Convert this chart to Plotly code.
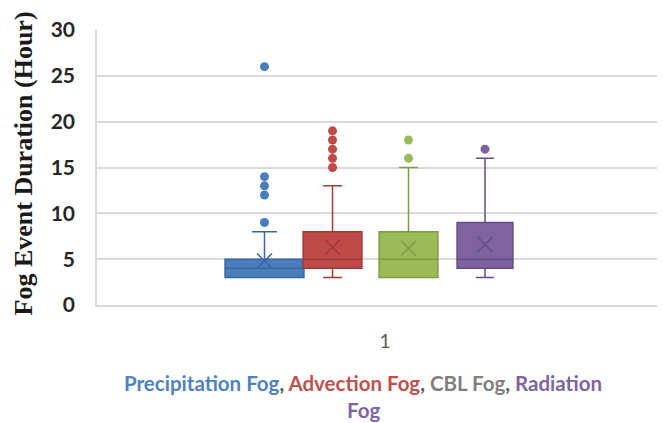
import plotly.graph_objects as go

# ---- data ----
categories = ["Precipitation Fog", "Advection Fog", "CBL Fog", "Radiation Fog"]
q1 = [3, 4, 3, 4]
median = [4, 5, 5, 5]
q3 = [5, 8, 8, 9]
lower = [3, 3, 3, 3]
upper = [8, 13, 15, 16]
means = [4.8, 6.3, 6.2, 6.6]
outliers = [
    [9, 12, 13, 14, 26],
    [15, 16, 17, 18, 19],
    [16, 18],
    [17],
]
x_tick_labels = ["1"]
y_ticks = [0, 5, 10, 15, 20, 25, 30]

# ---- styling ----
fill_colors = ["#4A7EBB", "#BE4B48", "#9BBB59", "#7F63A1"]
line_colors = ["#3A66A0", "#A03A37", "#7D9B43", "#644C86"]
legend_colors = ["#4F81BD", "#C0504D", "#7F7F7F", "#8064A2"]
positions = [0.7908, 0.9089, 1.0408, 1.1736]
widths = [0.137, 0.102, 0.102, 0.097]

fig = go.Figure()
for i, name in enumerate(categories):
    fig.add_trace(go.Box(
        name=name,
        x=[positions[i]],
        q1=[q1[i]], median=[median[i]], q3=[q3[i]],
        lowerfence=[lower[i]], upperfence=[upper[i]],
        width=widths[i],
        whiskerwidth=0.32,
        fillcolor=fill_colors[i],
        line=dict(color=line_colors[i], width=1.5),
        boxpoints=False,
        showlegend=False,
        hoverinfo="skip",
    ))
    fig.add_trace(go.Scatter(
        x=[positions[i]] * len(outliers[i]), y=outliers[i],
        mode="markers",
        marker=dict(symbol="circle", size=9, color=fill_colors[i]),
        showlegend=False, hoverinfo="skip",
    ))
    fig.add_trace(go.Scatter(
        x=[positions[i]], y=[means[i]],
        mode="markers",
        marker=dict(symbol="x-thin", size=15, line=dict(width=1.5, color=line_colors[i])),
        showlegend=False, hoverinfo="skip",
    ))

# page body has an 8px margin: the figure is sized and placed to compensate
W, H, OFF = 665 - 8, 423 - 8, 8
fig.update_layout(
    width=W, height=H,
    margin=dict(l=97 - OFF, r=0, t=30 - OFF, b=H - (305 - OFF)),
    plot_bgcolor="white", paper_bgcolor="white",
    xaxis=dict(
        range=[0.5, 1.4861],
        tickvals=[1], ticktext=x_tick_labels,
        showgrid=False, zeroline=False,
        showline=True, linecolor="#D9D9D9", linewidth=1.5,
        ticks="", ticklabelstandoff=18,
        tickfont=dict(family="Lato", size=19, color="#595959"),
    ),
    yaxis=dict(
        range=[0, 30],
        tickvals=y_ticks,
        showgrid=True, gridcolor="#D9D9D9", gridwidth=1.5,
        zeroline=False,
        showline=True, linecolor="#D9D9D9", linewidth=1.5,
        ticks="", ticklabelstandoff=16,
        tickfont=dict(family="Lato", size=21, color="#262626", weight="bold"),
    ),
)

# y-axis title
fig.add_annotation(
    text="Fog Event Duration (Hour)",
    xref="paper", yref="paper", x=0, y=0.5,
    xshift=-(97 - 23), yshift=4, textangle=-90,
    showarrow=False, xanchor="center", yanchor="middle",
    font=dict(family="Liberation Serif", size=26, color="#1a1a1a", weight="bold"),
)

# legend-like coloured caption
sep = "<span style='color:#595959'>, </span>"
line1 = (f"<span style='color:{legend_colors[0]}'>{categories[0]}</span>" + sep +
         f"<span style='color:{legend_colors[1]}'>{categories[1]}</span>" + sep +
         f"<span style='color:{legend_colors[2]}'>{categories[2]}</span>" + sep +
         f"<span style='color:{legend_colors[3]}'>Radiation</span>")
cap_x = (363 - 97) / (665 - 97)
fig.add_annotation(
    text=line1, xref="paper", yref="paper",
    x=cap_x, y=0, yshift=-(383 - 305), xanchor="center", yanchor="middle",
    showarrow=False, font=dict(family="Lato", size=20.5, weight="bold"),
)
fig.add_annotation(
    text=f"<span style='color:{legend_colors[3]}'>Fog</span>", xref="paper", yref="paper",
    x=cap_x, y=0, yshift=-(410 - 305), xanchor="center", yanchor="middle",
    showarrow=False, font=dict(family="Lato", size=20.5, weight="bold"),
)

fig.write_html("out.html")
